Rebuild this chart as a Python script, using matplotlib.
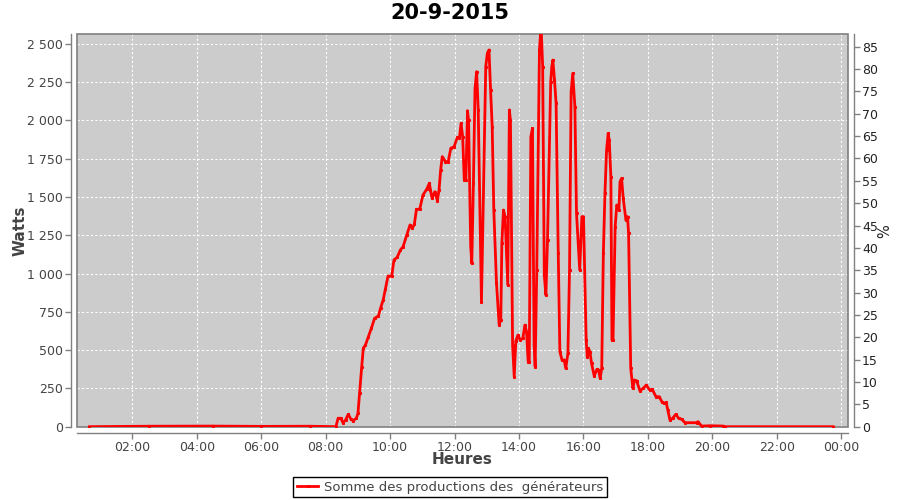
import numpy as np
import matplotlib
matplotlib.use("Agg")
import matplotlib.pyplot as plt
from matplotlib.ticker import FuncFormatter, MultipleLocator
from matplotlib.patches import Rectangle

# production of 20-9-2015
times = ["00:40", "02:30", "04:30", "06:00", "07:30", "08:19", "08:23", "08:28", "08:32",
         "08:37", "08:42", "08:47", "08:51", "08:57", "09:00", "09:03", "09:07", "09:10",
         "09:14", "09:19", "09:25", "09:31", "09:38", "09:42", "09:47", "09:51", "09:56",
         "10:03", "10:07", "10:13", "10:19", "10:24", "10:31", "10:37", "10:41", "10:45",
         "10:49", "10:55", "11:01", "11:08", "11:13", "11:15", "11:18", "11:23", "11:28",
         "11:31", "11:34", "11:37", "11:43", "11:48", "11:53", "11:59", "12:05", "12:09",
         "12:12", "12:15", "12:18", "12:21", "12:24", "12:26", "12:30", "12:32", "12:35",
         "12:38", "12:41", "12:44", "12:50", "12:58", "13:01", "13:04", "13:07", "13:10",
         "13:13", "13:18", "13:23", "13:26", "13:28", "13:31", "13:34", "13:37", "13:39",
         "13:42", "13:44", "13:48", "13:51", "13:54", "13:58", "14:02", "14:07", "14:11",
         "14:14", "14:17", "14:19", "14:22", "14:25", "14:28", "14:30", "14:33", "14:38",
         "14:41", "14:44", "14:47", "14:50", "14:53", "14:59", "15:01", "15:03", "15:06",
         "15:09", "15:13", "15:16", "15:20", "15:24", "15:27", "15:31", "15:34", "15:37",
         "15:40", "15:44", "15:47", "15:53", "15:57", "16:00", "16:05", "16:07", "16:09",
         "16:12", "16:15", "16:20", "16:25", "16:28", "16:31", "16:34", "16:37", "16:40",
         "16:43", "16:46", "16:48", "16:51", "16:53", "16:55", "16:59", "17:02", "17:06",
         "17:08", "17:11", "17:14", "17:19", "17:22", "17:24", "17:28", "17:32", "17:35",
         "17:39", "17:45", "17:51", "17:57", "18:03", "18:08", "18:15", "18:21", "18:26",
         "18:30", "18:34", "18:37", "18:41", "18:46", "18:52", "18:57", "19:03", "19:09",
         "19:31", "19:33", "19:40", "19:56", "20:20", "20:24", "23:45"]
watts = [0, 3, 4, 2, 3, 0, 55, 55, 26,
         44, 81, 48, 39, 55, 87, 218, 392, 512,
         534, 584, 643, 708, 723, 773, 828, 897, 984,
         984, 1089, 1106, 1154, 1176, 1252, 1318, 1296, 1322,
         1420, 1420, 1513, 1551, 1590, 1546, 1492, 1535, 1476,
         1546, 1677, 1764, 1731, 1731, 1819, 1829, 1890, 1888,
         1982, 1894, 1611, 1611, 2064, 2003, 1176, 1067, 1590,
         2210, 2319, 2069, 817, 2352, 2439, 2461, 2199, 1960,
         1415, 937, 664, 697, 1198, 1415, 1372, 1110, 926,
         2069, 2000, 534, 327, 560, 599, 566, 577, 664,
         620, 425, 425, 1894, 1949, 534, 392, 1024, 2461,
         2620, 2352, 991, 860, 1220, 2254, 2352, 2395, 2265,
         2112, 1133, 490, 436, 436, 381, 479, 1024, 2188,
         2308, 2090, 1394, 1024, 1372, 1372, 566, 457, 512,
         490, 414, 331, 375, 370, 316, 381, 1133, 1525,
         1807, 1916, 1870, 1633, 566, 566, 1306, 1448, 1415,
         1600, 1622, 1492, 1350, 1372, 1263, 381, 251, 305,
         300, 235, 250, 272, 240, 244, 196, 196, 163,
         153, 158, 109, 44, 55, 81, 55, 48, 26,
         26, 33, 4, 6, 4, 0, 0]

hours = np.array([int(t[:2]) + int(t[3:]) / 60 for t in times])

W_PER_PCT = 29.2
text_col = "#444444"
axis_col = "#808080"

fig = plt.figure(figsize=(9, 5), dpi=100)
ax = fig.add_axes([77 / 900, 1 - 427.3 / 500, (848 - 77) / 900, (427.3 - 34) / 500])
ax.set_facecolor("#cccccc")

ax.plot(hours, watts, color="red", lw=2, marker="s", markersize=1.2, zorder=6,
        label="Somme des productions des  générateurs")

ax.set_xlim(0.28, 24.21)
ax.set_ylim(-4, 2565)
ax.xaxis.set_major_locator(MultipleLocator(2))
ax.xaxis.set_major_formatter(FuncFormatter(lambda v, p: "%02d:00" % (int(round(v)) % 24)))
ax.yaxis.set_major_locator(MultipleLocator(250))
ax.yaxis.set_major_formatter(FuncFormatter(lambda v, p: "{:,}".format(int(v)).replace(",", " ")))
ax.grid(True, color="white", linestyle=(0, (2, 2)), lw=0.8)

ax2 = ax.twinx()
ax2.set_ylim(-4 / W_PER_PCT, 2565 / W_PER_PCT)
ax2.yaxis.set_major_locator(MultipleLocator(5))

for a in (ax, ax2):
    for s in a.spines.values():
        s.set_visible(False)
    a.tick_params(colors=axis_col, labelcolor=text_col, labelsize=9, length=4, width=1, pad=2)
ax.spines["left"].set_visible(True)
ax.spines["bottom"].set_visible(True)
ax2.spines["right"].set_visible(True)
for s in (ax.spines["left"], ax.spines["bottom"], ax2.spines["right"]):
    s.set_position(("outward", 4))
    s.set_color(axis_col)
    s.set_linewidth(1)
ax2.tick_params(labelcolor="#222222")

# plot outline
ax.add_patch(Rectangle((0, 0), 1, 1, transform=ax.transAxes, fill=False,
                       edgecolor=axis_col, lw=1.2, zorder=5, clip_on=False))

fig.text(0.5, 1 - 13 / 500, "20-9-2015", fontsize=15, fontweight="bold",
         ha="center", va="center")
ax.set_xlabel("Heures", fontsize=11, fontweight="bold", color=text_col)
ax.set_ylabel("Watts", fontsize=11, fontweight="bold", color=text_col)
ax2.set_ylabel("%", fontsize=10.5, color="#222222")
ax.xaxis.set_label_coords(0.5, (427.3 - 460) / 393.3)
ax.yaxis.set_label_coords((20 - 77) / 771, 0.5)
ax2.yaxis.set_label_coords((885 - 77) / 771, 0.5)
ax.xaxis.label.set_va("center")
ax.yaxis.label.set_va("center")
ax2.yaxis.label.set_va("center")

leg = fig.legend(loc="center", bbox_to_anchor=(0.5, 0.026), fontsize=9.5, fancybox=False,
                 framealpha=1, edgecolor="black", handlelength=1.6, borderpad=0.3,
                 handletextpad=0.4)
leg.get_frame().set_linewidth(1)
for t in leg.get_texts():
    t.set_color(text_col)

fig.savefig("out.png", dpi=100)
